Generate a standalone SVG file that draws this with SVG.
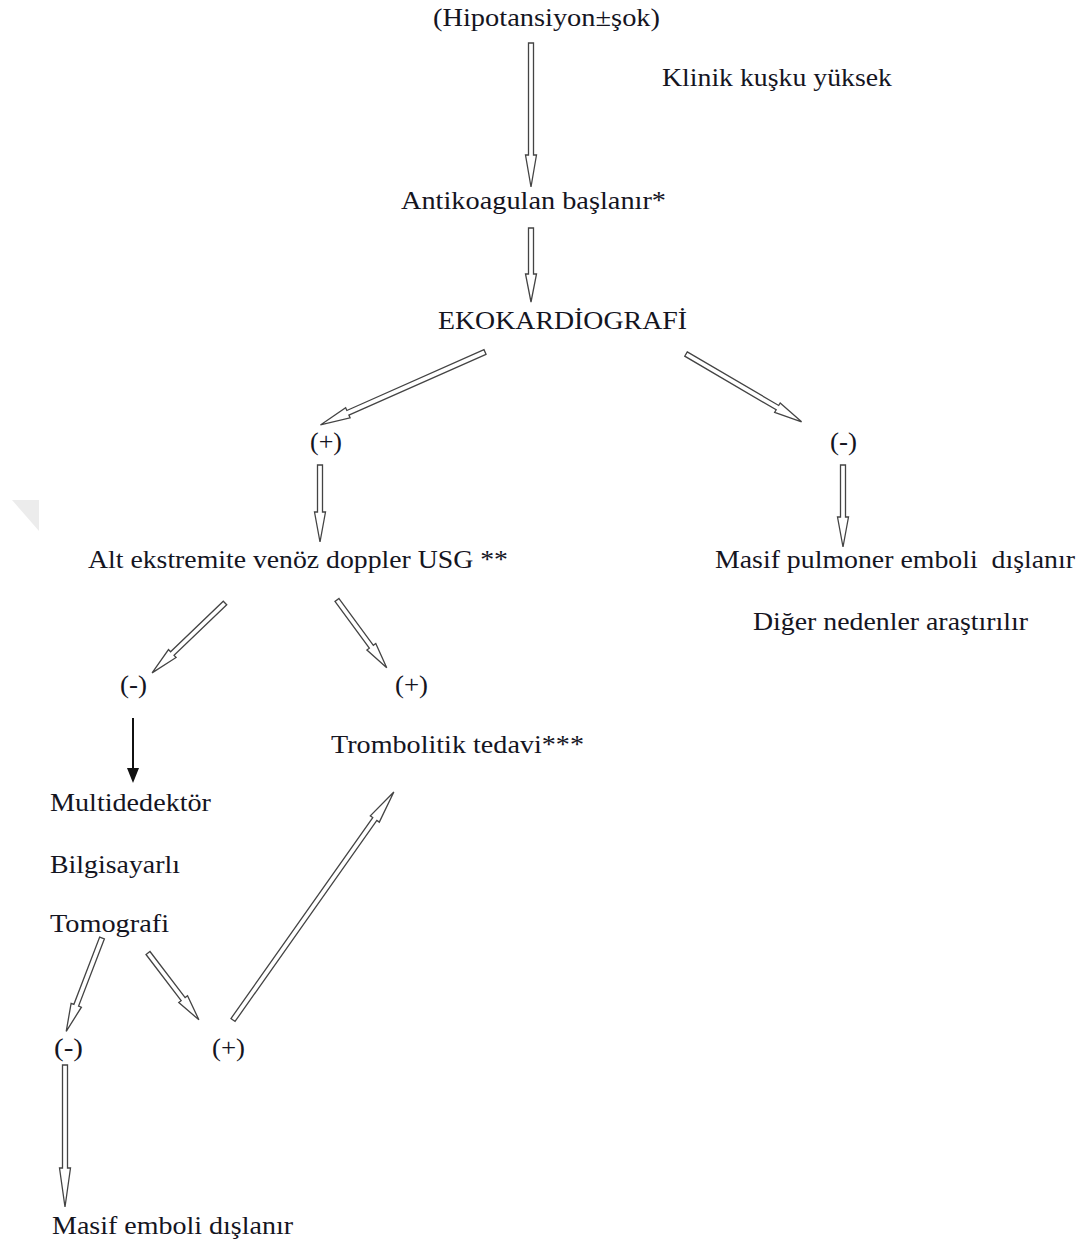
<svg xmlns="http://www.w3.org/2000/svg" width="1087" height="1248" viewBox="0 0 1087 1248">
<style>
text{font-family:"Liberation Serif","Times New Roman",serif;font-size:26px;fill:#15151f}
.arr{fill:#fff;stroke:#444;stroke-width:1.3;stroke-linejoin:miter}
</style>
<rect width="1087" height="1248" fill="#fff"/>
<polygon points="12,500 39,500 39,531" fill="#ececec"/>
<g id="connectors">
<path class="arr" transform="translate(531,43) rotate(90)" d="M0,-2.5 L112,-2.5 L112,-5.5 L144,0 L112,5.5 L112,2.5 L0,2.5 Z"/>
<path class="arr" transform="translate(531,228) rotate(90)" d="M0,-2.5 L46,-2.5 L46,-5.5 L74,0 L46,5.5 L46,2.5 L0,2.5 Z"/>
<path class="arr" transform="translate(485,352) rotate(156.1)" d="M0,-2.5 L150,-2.5 L150,-5.5 L180,0 L150,5.5 L150,2.5 L0,2.5 Z"/>
<path class="arr" transform="translate(686,354) rotate(30.4)" d="M0,-2.5 L106,-2.5 L106,-5.5 L134,0 L106,5.5 L106,2.5 L0,2.5 Z"/>
<path class="arr" transform="translate(843,465) rotate(90)" d="M0,-2.5 L52,-2.5 L52,-5.5 L82,0 L52,5.5 L52,2.5 L0,2.5 Z"/>
<path class="arr" transform="translate(320,465) rotate(90)" d="M0,-2.5 L47,-2.5 L47,-5.5 L77,0 L47,5.5 L47,2.5 L0,2.5 Z"/>
<path class="arr" transform="translate(225,603) rotate(136.2)" d="M0,-2.5 L73,-2.5 L73,-5.5 L101,0 L73,5.5 L73,2.5 L0,2.5 Z"/>
<path class="arr" transform="translate(337,600) rotate(53.7)" d="M0,-2.5 L58,-2.5 L58,-5.5 L84,0 L58,5.5 L58,2.5 L0,2.5 Z"/>
<line x1="133" y1="718" x2="133" y2="770" stroke="#111" stroke-width="2"/>
<polygon points="127,768 139,768 133,783" fill="#111"/>
<path class="arr" transform="translate(233,1020) rotate(-54.8)" d="M0,-2.5 L246,-2.5 L246,-5.5 L279,0 L246,5.5 L246,2.5 L0,2.5 Z"/>
<path class="arr" transform="translate(102,938) rotate(110.96)" d="M0,-2.5 L72,-2.5 L72,-5.5 L100,0 L72,5.5 L72,2.5 L0,2.5 Z"/>
<path class="arr" transform="translate(148,953) rotate(52.7)" d="M0,-2.5 L58,-2.5 L58,-5.5 L84,0 L58,5.5 L58,2.5 L0,2.5 Z"/>
<path class="arr" transform="translate(65,1065) rotate(90)" d="M0,-2.5 L103,-2.5 L103,-5.5 L142,0 L103,5.5 L103,2.5 L0,2.5 Z"/>
</g>
<g id="n1"><text x="433" y="26" textLength="227" lengthAdjust="spacingAndGlyphs">(Hipotansiyon±şok)</text></g>
<g id="n2"><text x="662" y="86" textLength="230" lengthAdjust="spacingAndGlyphs">Klinik kuşku yüksek</text></g>
<g id="n3"><text x="401" y="209" textLength="265" lengthAdjust="spacingAndGlyphs">Antikoagulan başlanır*</text></g>
<g id="n4"><text x="438" y="329" textLength="249" lengthAdjust="spacingAndGlyphs">EKOKARDİOGRAFİ</text></g>
<g id="n5"><text x="310" y="450" textLength="32" lengthAdjust="spacingAndGlyphs">(+)</text></g>
<g id="n6"><text x="830" y="450" textLength="27" lengthAdjust="spacingAndGlyphs">(-)</text></g>
<g id="n7"><text x="88" y="568" textLength="420" lengthAdjust="spacingAndGlyphs">Alt ekstremite venöz doppler USG **</text></g>
<g id="n8"><text x="715" y="568" textLength="360" lengthAdjust="spacingAndGlyphs" xml:space="preserve">Masif pulmoner emboli  dışlanır</text></g>
<g id="n9"><text x="753" y="630" textLength="275" lengthAdjust="spacingAndGlyphs">Diğer nedenler araştırılır</text></g>
<g id="n10"><text x="120" y="693" textLength="27" lengthAdjust="spacingAndGlyphs">(-)</text></g>
<g id="n11"><text x="395" y="693" textLength="33" lengthAdjust="spacingAndGlyphs">(+)</text></g>
<g id="n12"><text x="331" y="753" textLength="253" lengthAdjust="spacingAndGlyphs">Trombolitik tedavi***</text></g>
<g id="n13"><text x="50" y="811" textLength="161" lengthAdjust="spacingAndGlyphs">Multidedektör</text></g>
<g id="n14"><text x="50" y="873" textLength="130" lengthAdjust="spacingAndGlyphs">Bilgisayarlı</text></g>
<g id="n15"><text x="50" y="932" textLength="119" lengthAdjust="spacingAndGlyphs">Tomografi</text></g>
<g id="n16"><text x="54" y="1056" textLength="29" lengthAdjust="spacingAndGlyphs">(-)</text></g>
<g id="n17"><text x="212" y="1056" textLength="33" lengthAdjust="spacingAndGlyphs">(+)</text></g>
<g id="n18"><text x="52" y="1234" textLength="241" lengthAdjust="spacingAndGlyphs">Masif emboli dışlanır</text></g>
</svg>
